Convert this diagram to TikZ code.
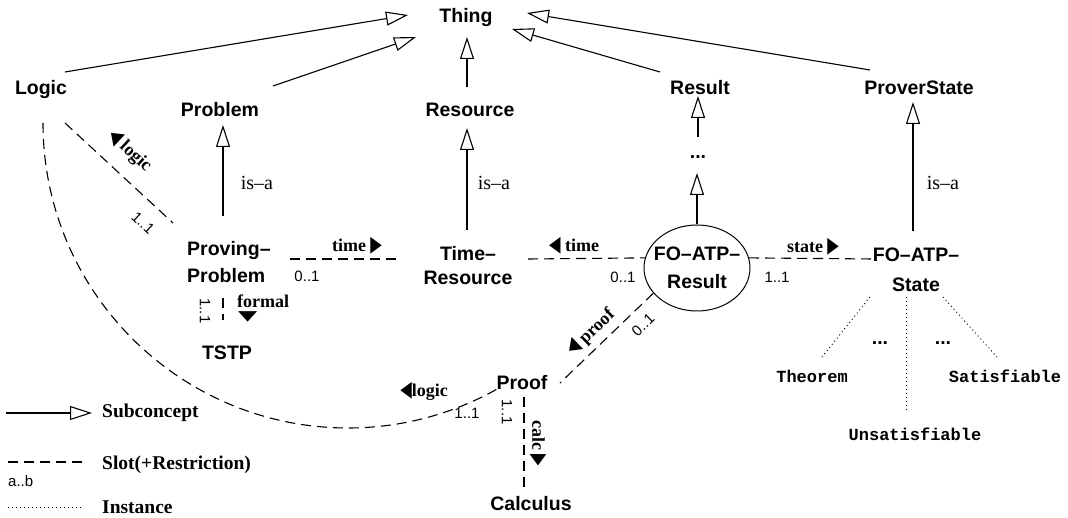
\documentclass[tikz,border=0pt]{standalone}
\usepackage{fontspec}
\setmainfont{Liberation Serif}
\setsansfont{Liberation Sans}
\setmonofont{Liberation Mono}
\newfontfamily\symf{DejaVu Sans}
\usetikzlibrary{arrows.meta,calc,shapes.geometric}
\newcommand\rtri{{\symf\fontsize{22}{22}\selectfont\scalebox{0.68}[1]{▶}}}
\newcommand\ltri{{\symf\fontsize{22}{22}\selectfont\scalebox{0.68}[1]{◀}}}
\newcommand\dtri{{\symf\fontsize{25}{25}\selectfont\scalebox{1}[0.55]{▼}}}
\begin{document}
\begin{tikzpicture}[x=1pt,y=-1pt,
  concept/.style={font=\sffamily\bfseries\fontsize{19.5}{27}\selectfont, inner sep=0pt},
  inststyle/.style={font=\ttfamily\bfseries\fontsize{17}{20}\selectfont, inner sep=0pt},
  slotlbl/.style={font=\rmfamily\bfseries\fontsize{18}{20}\selectfont, inner sep=0pt},
  leglbl/.style={font=\rmfamily\bfseries\fontsize{19.5}{22}\selectfont, inner sep=0pt},
  isa/.style={font=\rmfamily\fontsize{20}{22}\selectfont, inner sep=0pt},
  mult/.style={font=\sffamily\fontsize{15}{17}\selectfont, inner sep=0pt},
  sub/.style={line width=1.1pt, -{Triangle[open,length=22pt,width=14pt]}},
  slot/.style={line width=1.1pt, dash pattern=on 10pt off 6pt},
  instline/.style={line width=0.9pt, dash pattern=on 1pt off 3pt},
]
\useasboundingbox (0,0) rectangle (1068,518);

% concepts
\node[concept, anchor=base] (Thing) at (466,23) {Thing};
\node[concept, anchor=base] (Logic) at (41,95) {Logic};
\node[concept, anchor=base] (Problem) at (220,117) {Problem};
\node[concept, anchor=base] (Resource) at (470,117) {Resource};
\node[concept, anchor=base] (Result) at (700,95) {Result};
\node[concept, anchor=base] (ProverState) at (919,95) {ProverState};
\node[concept, anchor=base] (dotsR) at (698,159) {...};
\node[concept, align=left, anchor=west] (PP) at (187,262.5) {Proving–\\Problem};
\node[concept, align=center, font=\sffamily\bfseries\fontsize{19.5}{24}\selectfont] (TR) at (468,265.5) {Time–\\Resource};
\node[draw, ellipse, line width=1pt, minimum width=106pt, minimum height=86pt, inner sep=0pt] (FR) at (697,268) {};
\node[concept, align=center, font=\sffamily\bfseries\fontsize{19.5}{28}\selectfont] (FRt) at (FR.center) {FO–ATP–\\Result};
\node[concept, align=center, font=\sffamily\bfseries\fontsize{19.5}{30}\selectfont] (FS) at (916,269.5) {FO–ATP–\\State};
\node[concept, anchor=base] (TSTP) at (227,360) {TSTP};
\node[concept, anchor=base] (Proof) at (522,389) {Proof};
\node[concept, anchor=base] (Calculus) at (531,510) {Calculus};

% instances
\node[inststyle, anchor=base] (Theorem) at (812,382) {Theorem};
\node[inststyle, anchor=base] (Unsat) at (915,440) {Unsatisfiable};
\node[inststyle, anchor=base] (Sat) at (1005,382) {Satisfiable};
\node[concept, anchor=base] (dotsA) at (880,345) {...};
\node[concept, anchor=base] (dotsB) at (943,345) {...};

% subconcept arrows
\draw[sub] ($(Logic.base)+(24,-23)$) -- ($(Thing.base)+(-58,-8)$);
\draw[sub] ($(Problem.base)+(53,-31)$) -- ($(Thing.base)+(-50,14)$);
\draw[sub] ($(Resource.base)+(-3,-30)$) -- ($(Thing.base)+(1,14)$);
\draw[sub] ($(Result.base)+(-40,-23)$) -- ($(Thing.base)+(46,6)$);
\draw[sub] ($(ProverState.base)+(-49,-25)$) -- ($(Thing.base)+(61,-10)$);
\draw[sub] ($(PP.west)+(36,-46.5)$) -- ($(Problem.base)+(3,8)$);
\draw[sub] ($(TR.center)+(-1,-35.5)$) -- ($(Resource.base)+(-3,11)$);
\draw[sub] (FR.north) -- ($(dotsR.base)+(-1,14)$);
\draw[sub] ($(dotsR.base)+(0,-22)$) -- ($(Result.base)+(-2,1)$);
\draw[sub] ($(FS.center)+(-3,-38.5)$) -- ($(ProverState.base)+(-6,7)$);
\node[isa] at (257,183) {is–a};
\node[isa] at (494,183) {is–a};
\node[isa] at (943,183) {is–a};

% slots
\draw[slot] ($(Logic.base)+(24,28)$) -- ($(PP.west)+(-14,-39.5)$);
\node[slotlbl, rotate=-42.8] at (130,151) {\ltri\ logic};
\node[mult, rotate=-42.8] at (143,223) {1..1};

\draw[slot] ($(PP.west)+(103,-3.5)$) -- ($(TR.center)+(-66,-6.5)$);
\node[slotlbl] at (357,246) {time\ \rtri};
\node[mult] at (307,276) {0..1};

\draw[slot] ($(TR.center)+(60,-6.5)$) -- (FR.169);
\node[slotlbl] at (574,246) {\ltri\ time};
\node[mult] at (623,277) {0..1};

\draw[slot] (FR.11) -- ($(FS.center)+(-43,-10.5)$);
\node[slotlbl] at (813,247) {state\ \rtri};
\node[mult] at (777,277) {1..1};

\draw[slot] (FR.210) -- ($(Proof.base)+(38,-6)$);
\node[slotlbl, rotate=43.8] at (591,332) {\ltri\ proof};
\node[mult, rotate=43.8] at (643,325) {0..1};

\draw[slot] ($(Logic.base)+(2,28)$) arc[start angle=180, end angle=299.3, radius=305pt];
\node[slotlbl] at (424,391) {\ltri logic};
\node[mult] at (467,413) {1..1};

\draw[slot] ($(PP.west)+(36,35.5)$) -- ($(TSTP.base)+(-4,-40)$);
\node[mult, rotate=-90] at (205,311) {1..1};
\node[slotlbl, align=left, anchor=north west] at (237,295) {formal\\[-7pt]\hspace*{1pt}\dtri};

\draw[slot] ($(Proof.base)+(2,8)$) -- ($(Calculus.base)+(-7,-20)$);
\node[mult, rotate=-90] at (507,412) {1..1};
\node[slotlbl, rotate=-90] at (538,443) {calc\ \rtri};

% instance links
\draw[instline] ($(FS.center)+(-46,27.5)$) -- ($(Theorem.base)+(10,-25)$);
\draw[instline] ($(FS.center)+(-10,27.5)$) -- ($(Unsat.base)+(-9,-27)$);
\draw[instline] ($(FS.center)+(27,27.5)$) -- ($(Sat.base)+(-8,-25)$);

% legend
\coordinate (la) at (6,413);
\coordinate (lb) at (92,413);
\coordinate (lc) at (8,462);
\coordinate (ld) at (86,462);
\coordinate (le) at (8,507);
\coordinate (lf) at (82,507);
\draw[sub] (la) -- (lb);
\node[leglbl, anchor=west] at (102,413) {Subconcept};
\draw[slot] (lc) -- (ld);
\node[leglbl, anchor=west] at (102,465) {Slot(+Restriction)};
\node[mult, anchor=west] at (8,481) {a..b};
\draw[instline] (le) -- (lf);
\node[leglbl, anchor=west] at (102,507) {Instance};
\end{tikzpicture}
\end{document}
